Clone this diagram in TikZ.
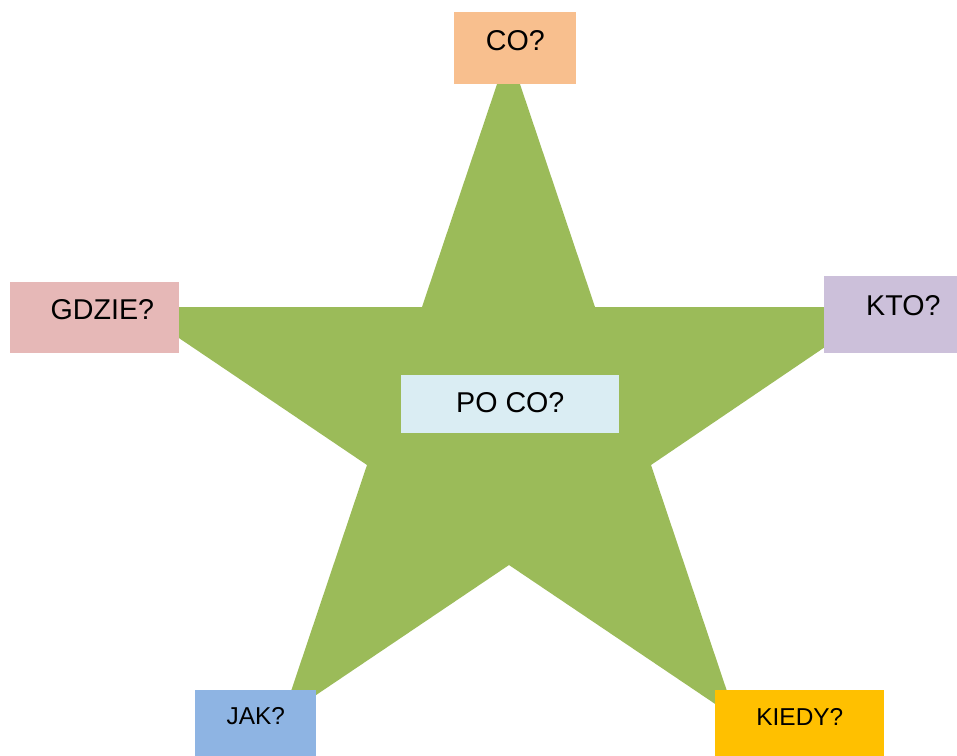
\documentclass[tikz,border=0pt]{standalone}
\usepackage{fontspec}
\setmainfont{Liberation Sans}
\usetikzlibrary{positioning}
\definecolor{stargreen}{HTML}{9BBB59}
\definecolor{coorange}{HTML}{F8BF8E}
\definecolor{gdziepink}{HTML}{E6B8B7}
\definecolor{ktolilac}{HTML}{CCC0DA}
\definecolor{pocoblue}{HTML}{DAEDF3}
\definecolor{jakblue}{HTML}{8EB4E3}
\definecolor{kiedygold}{HTML}{FFC000}
\tikzset{
	qbox/.style={rectangle, inner sep=0pt, anchor=north west, align=center, font=\fontsize{16.3}{19}\selectfont},
	qsmall/.style={qbox, font=\fontsize{13.9}{17}\selectfont}
}

\begin{document}
\begin{tikzpicture}[x=0.02cm, y=-0.02cm]
		%%%%% START %%%%%
		\useasboundingbox (0, 0) rectangle (957, 755);
		
		\fill[stargreen] (508.5, 50) -- (595, 307) -- (884, 307) -- (651, 465) -- (736, 718) -- (509, 565) -- (282, 718) -- (367, 465) -- (133, 307) -- (422, 307) -- cycle;
		
		\node[qbox, fill=coorange, minimum width=2.44cm, text height=0.76cm, text depth=0.68cm] (co) at (454, 12) {CO?};
		\node[qbox, fill=gdziepink, minimum width=3.38cm, text height=0.74cm, text depth=0.68cm] (gdzie) at (10, 282) {\hspace{0.3cm}GDZIE?};
		\node[qbox, fill=ktolilac, minimum width=3.16cm, text height=0.78cm, text depth=0.76cm] (kto) at (824, 276) {KTO?};
		
		\node[qbox, fill=pocoblue, minimum width=4.36cm, text height=0.74cm, text depth=0.42cm] (poco) at (401, 375) {PO CO?};
		
		\node[qsmall, fill=jakblue, minimum width=2.42cm, text height=0.68cm, text depth=0.92cm] (jak) at (195, 690) {JAK?};
		\node[qsmall, fill=kiedygold, minimum width=3.38cm, text height=0.70cm, text depth=0.92cm] (kiedy) at (715, 690) {KIEDY?};
		%%%%% END %%%%%
\end{tikzpicture}
\end{document}
